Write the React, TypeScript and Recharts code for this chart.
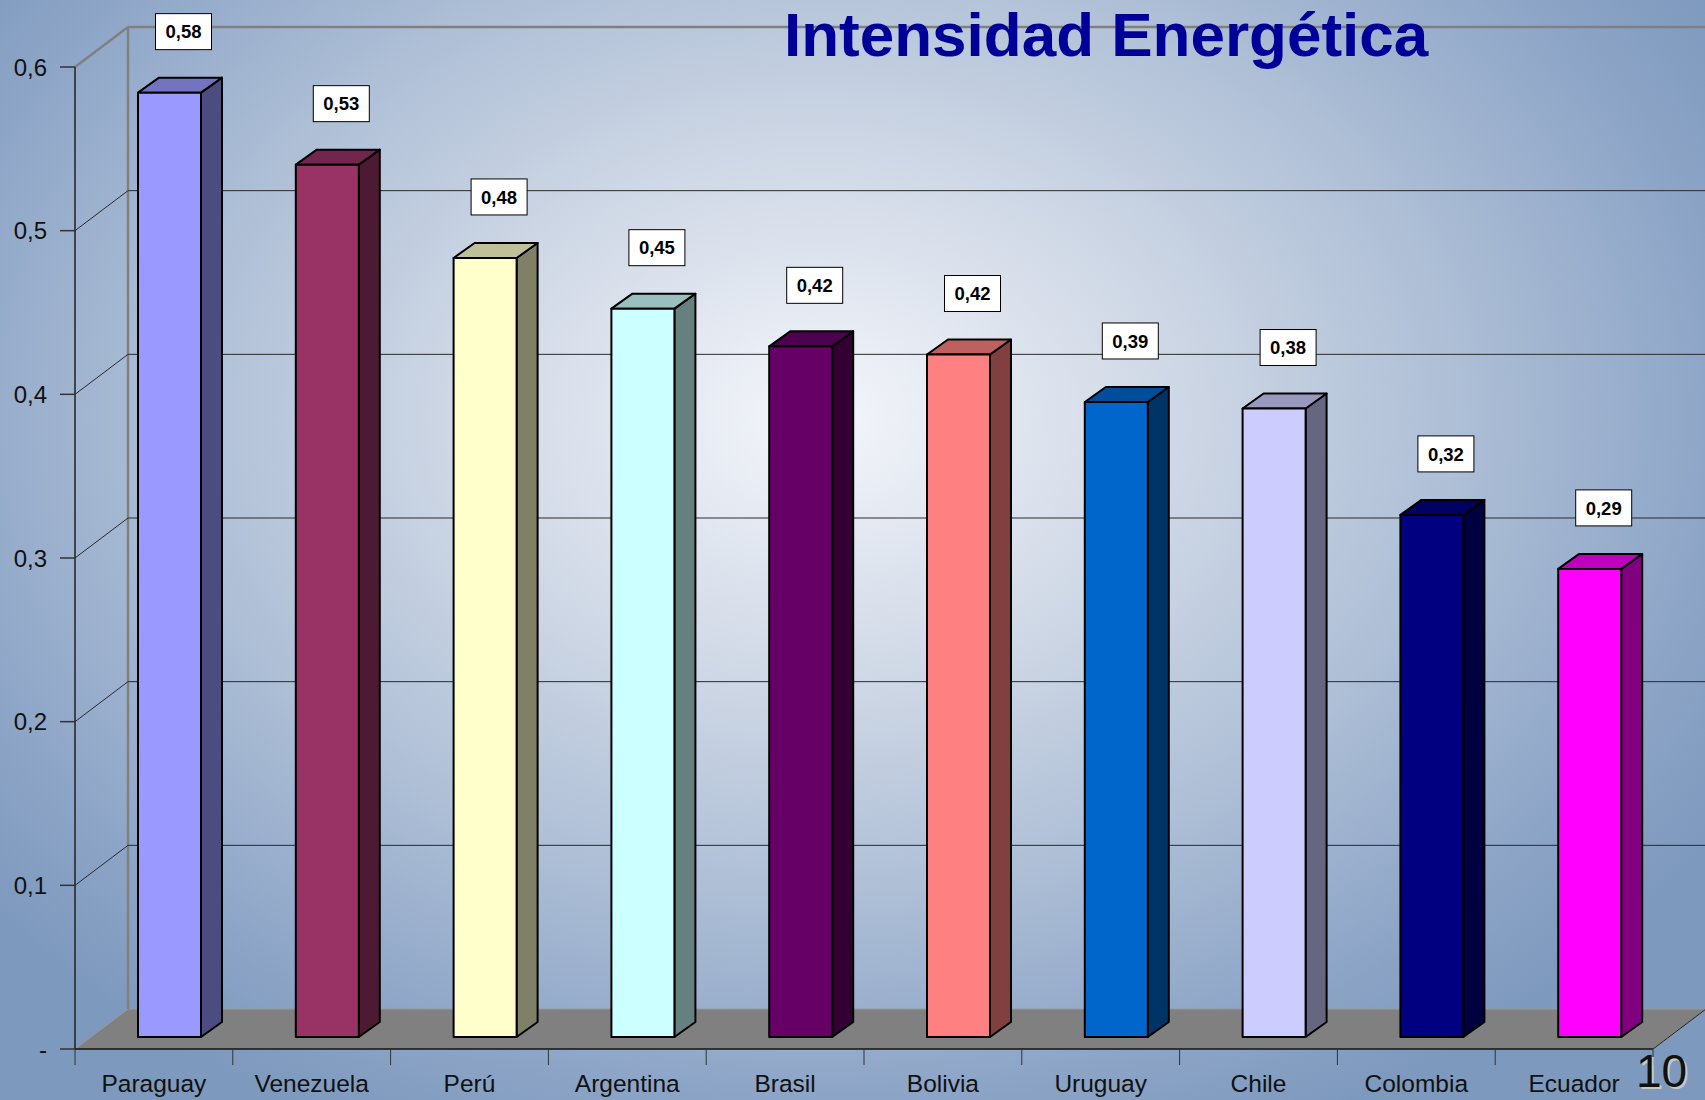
import React from "react"
import {
  BarChart,
  Bar,
  XAxis,
  YAxis,
  ReferenceLine,
  ReferenceArea,
  LabelList,
} from "recharts"

const countries = [
  "Paraguay",
  "Venezuela",
  "Perú",
  "Argentina",
  "Brasil",
  "Bolivia",
  "Uruguay",
  "Chile",
  "Colombia",
  "Ecuador",
]
const intensity = [0.577, 0.533, 0.476, 0.445, 0.422, 0.417, 0.388, 0.384, 0.319, 0.286]
const yTicks = [0, 0.1, 0.2, 0.3, 0.4, 0.5, 0.6]
const gridValues = [0.1, 0.2, 0.3, 0.4, 0.5]

// front / top / side shades, like the old Excel 3D column palette
const faces = [
  ["#9999FF", "#7373C0", "#4C4C80"],
  ["#993366", "#73264D", "#4D1A33"],
  ["#FFFFCC", "#BFBF99", "#808066"],
  ["#CCFFFF", "#99BFBF", "#668080"],
  ["#660066", "#4D004D", "#330033"],
  ["#FF8080", "#BF6060", "#804040"],
  ["#0066CC", "#004D99", "#003366"],
  ["#CCCCFF", "#9999BF", "#666680"],
  ["#000080", "#000060", "#000040"],
  ["#FF00FF", "#BF00BF", "#800080"],
]

const data = countries.map((name, i) => ({ name, value: intensity[i] }))

// depth of the chart box and of each column
const WALL_DX = 53
const WALL_DY = 40
const COL_SHIFT_X = 16
const COL_SHIFT_Y = 12
const COL_DX = 21
const COL_DY = 15

const font = "'Liberation Sans', Arial, sans-serif"

const fmt = (v: number) => (v === 0 ? "-" : v.toFixed(1).replace(".", ","))

function Column(props: any) {
  const { x, y, width, height, index } = props
  const [front, top, side] = faces[index % faces.length]
  const fx = x + COL_SHIFT_X
  const fy = y - COL_SHIFT_Y
  const bottom = fy + height
  return (
    <g stroke="#000" strokeWidth={2} strokeLinejoin="round">
      <polygon
        points={`${fx + width},${fy} ${fx + width + COL_DX},${fy - COL_DY} ${fx + width + COL_DX},${bottom - COL_DY} ${fx + width},${bottom}`}
        fill={side}
      />
      <polygon
        points={`${fx},${fy} ${fx + COL_DX},${fy - COL_DY} ${fx + width + COL_DX},${fy - COL_DY} ${fx + width},${fy}`}
        fill={top}
      />
      <rect x={fx} y={fy} width={width} height={height} fill={front} />
    </g>
  )
}

function ValueBox(props: any) {
  const { x, y, width, value } = props
  const cx = x + width / 2 + 30
  const cy = y - COL_SHIFT_Y - 61
  return (
    <g>
      <rect x={cx - 28} y={cy - 18} width={56} height={36} fill="#fff" stroke="#000" strokeWidth={1} />
      <text
        x={cx}
        y={cy}
        dy="0.36em"
        textAnchor="middle"
        fontFamily={font}
        fontWeight="bold"
        fontSize={18.5}
        fill="#000"
      >
        {value.toFixed(2).replace(".", ",")}
      </text>
    </g>
  )
}

function CategoryTick(props: any) {
  const { x, y, payload, index } = props
  const half = payload.offset ?? 0
  return (
    <g>
      <line x1={x - half} y1={y - 16} x2={x - half} y2={y} stroke="#333" strokeWidth={1} />
      {index === countries.length - 1 && (
        <line x1={x + half} y1={y - 16} x2={x + half} y2={y} stroke="#333" strokeWidth={1} />
      )}
      <text x={x} y={y + 27} textAnchor="middle" fontFamily={font} fontSize={24.5} fill="#111">
        {payload.value}
      </text>
    </g>
  )
}

function BoxFrame(props: any) {
  const { x, y, width, height } = props
  const yb = y + height
  return (
    <g>
      {/* floor */}
      <polygon
        points={`${x},${yb} ${x + width},${yb} ${x + width + WALL_DX},${yb - WALL_DY} ${x + WALL_DX},${yb - WALL_DY}`}
        fill="#808080"
        stroke="#999"
        strokeWidth={1}
      />
      <line x1={x + width} y1={yb} x2={x + width + WALL_DX} y2={yb - WALL_DY} stroke="#222" strokeWidth={1} />
      {/* wall edges */}
      <line x1={x} y1={y} x2={x + WALL_DX} y2={y - WALL_DY} stroke="#808080" strokeWidth={2.5} />
      <line x1={x + WALL_DX} y1={y - WALL_DY} x2={x + width + 120} y2={y - WALL_DY} stroke="#808080" strokeWidth={2.5} />
      <line x1={x + WALL_DX} y1={y - WALL_DY} x2={x + WALL_DX} y2={yb - WALL_DY} stroke="#808080" strokeWidth={2.5} />
    </g>
  )
}

function GridLine(props: any) {
  const { x1, y1, x2 } = props
  return (
    <g stroke="#2a2a2a" strokeWidth={1} fill="none">
      <line x1={x1} y1={y1} x2={x1 + WALL_DX} y2={y1 - WALL_DY} />
      <line x1={x1 + WALL_DX} y1={y1 - WALL_DY} x2={x2 + 120} y2={y1 - WALL_DY} />
    </g>
  )
}

export default function App() {
  return (
    <div
      style={{
        position: "absolute",
        left: 0,
        top: 0,
        width: 1705,
        height: 1100,
        overflow: "hidden",
        background:
          "radial-gradient(ellipse 62% 72% at 48% 38%, #f4f6fb 0%, #d3dbe8 30%, #aebfd6 60%, #8da5c7 85%, #7d99bd 100%)",
      }}
    >
      <BarChart
        width={1705}
        height={1100}
        data={data}
        margin={{ top: 67, right: 52, bottom: 0, left: 0 }}
        barSize={63}
      >
        <ReferenceArea y1={0} y2={0.6} shape={BoxFrame} ifOverflow="visible" zIndex={-60} />
        {gridValues.map((v) => (
          <ReferenceLine key={v} y={v} shape={GridLine} ifOverflow="visible" zIndex={-50} />
        ))}
        <XAxis
          dataKey="name"
          height={51}
          tickSize={16}
          tickMargin={0}
          tickLine={false}
          axisLine={{ stroke: "#111", strokeWidth: 1.5 }}
          tick={CategoryTick}
          interval={0}
        />
        <YAxis
          type="number"
          domain={[0, 0.6]}
          ticks={yTicks}
          width={75}
          tickSize={15}
          tickMargin={13}
          tickFormatter={fmt}
          axisLine={{ stroke: "#222", strokeWidth: 1.5 }}
          tickLine={{ stroke: "#333", strokeWidth: 1.5 }}
          tick={{ fontSize: 24, fill: "#111", fontFamily: font }}
          interval={0}
        />
        <Bar dataKey="value" shape={Column} isAnimationActive={false}>
          <LabelList dataKey="value" content={ValueBox} />
        </Bar>
      </BarChart>
      <svg
        width={1705}
        height={1100}
        style={{ position: "absolute", left: 0, top: 0, pointerEvents: "none" }}
      >
        <text x={784} y={56} fontFamily={font} fontWeight="bold" fontSize={62} fill="#000099">
          Intensidad Energética
        </text>
        <text x={1638} y={1089} fontFamily={font} fontSize={46} fill="#c8c8c8">
          10
        </text>
        <text x={1636} y={1087} fontFamily={font} fontSize={46} fill="#111">
          10
        </text>
      </svg>
    </div>
  )
}
